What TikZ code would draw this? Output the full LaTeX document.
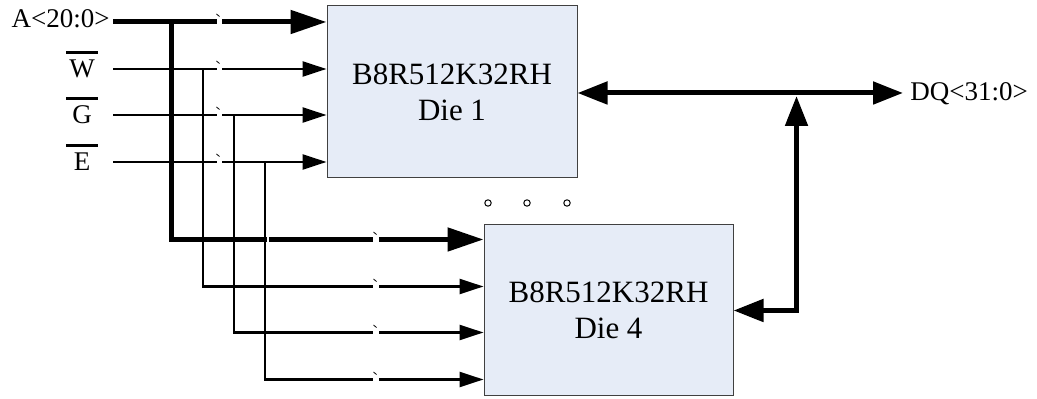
\documentclass[tikz,border=0pt]{standalone}
\usepackage{fontspec}
\setmainfont{Liberation Serif}
\usetikzlibrary{arrows.meta}
\definecolor{diefill}{HTML}{E6ECF7}
\newcommand{\negsig}[1]{\vbox{\hrule height 1.2pt\kern 3pt\hbox to 16pt{\hfil #1\hfil}}}

\begin{document}
\begin{tikzpicture}[x=0.5pt, y=-0.5pt]
	\tikzstyle{die}  = [draw=black!75, line width=0.5pt, fill=diefill, align=center, font=\fontsize{15.5}{18}\selectfont]
	\tikzstyle{sig}  = [inner sep=0pt, font=\fontsize{13.5}{15}\selectfont]
	\tikzstyle{bus}  = [line width=2.5pt, -{Triangle[length=18pt, width=11.5pt]}]
	\tikzstyle{wire} = [line width=1.2pt, -{Triangle[length=12pt, width=7.5pt]}]
	\tikzstyle{dq}   = [line width=2.5pt, {Triangle[length=15pt, width=11pt]}-{Triangle[length=15pt, width=11pt]}]

	\useasboundingbox (0,0) rectangle (1037,399);
%	\draw[step=50, gray!30] (0,0) grid (1037,399);

	\node[die, minimum width=125pt, minimum height=86pt] (die1) at (452, 92) {B8R512K32RH\\Die 1};
	\node[die, minimum width=124.5pt, minimum height=85.5pt] (die4) at (608.5, 310.5) {B8R512K32RH\\Die 4};

	\node[sig, anchor=base east] (lblA) at (110, 28) {A<20:0>};
	\foreach \name/\y in {W/69, G/115, E/162}
		\node[sig, anchor=base] (lbl\name) at (82, \y+8.5) {\negsig{\name}};
	\node[sig, anchor=base west] (lblDQ) at (910, 101) {DQ<31:0>};

	\foreach \name/\y in {A/22, W/69, G/115, E/162}
		\coordinate (src\name) at (113, \y);
	\foreach \name/\x/\y in {A/171/22, W/203/69, G/234/115, E/265/162}
		\coordinate (tap\name) at (\x, \y);
	\foreach \name/\dy in {A/15, W/62, G/108, E/155}
		\path (die4.north west) ++(0, \dy) coordinate (in4\name);
	\coordinate (dqout) at (903, 93);
	\coordinate (dqtap) at (796.5, 96);

	% die 1
	\draw[bus] (srcA) -- (die1.west |- srcA);
	\foreach \name in {W, G, E}
		\draw[wire] (src\name) -- (die1.west |- src\name);

	% die 4
	\draw[bus] (tapA) |- (in4A);
	\foreach \name in {W, G, E}
		\draw[wire] (tap\name) |- (in4\name);

	% breaks
	\foreach \y in {22, 69, 115, 162} {
		\fill[white] (216.5, \y-4) rectangle (221.5, \y+4);
		\draw[line width=0.4pt] (216.5, \y-8) -- (219.5, \y-5.5);
	}
	\foreach \y in {240, 287, 333, 380} {
		\fill[white] (373, \y-4) rectangle (379, \y+4);
		\draw[line width=0.4pt] (373.5, \y-8) -- (376.5, \y-5.5);
	}
	\fill[white] (266.8, 236) rectangle (269, 244);

	% data bus
	\draw[dq] (die1.east |- dqout) -- (dqout);
	\draw[dq] (dqtap) |- (die4.east);

	\foreach \x in {488, 527, 567}
		\draw[line width=0.5pt] (\x, 203) circle (1.6pt);

\end{tikzpicture}
\end{document}
